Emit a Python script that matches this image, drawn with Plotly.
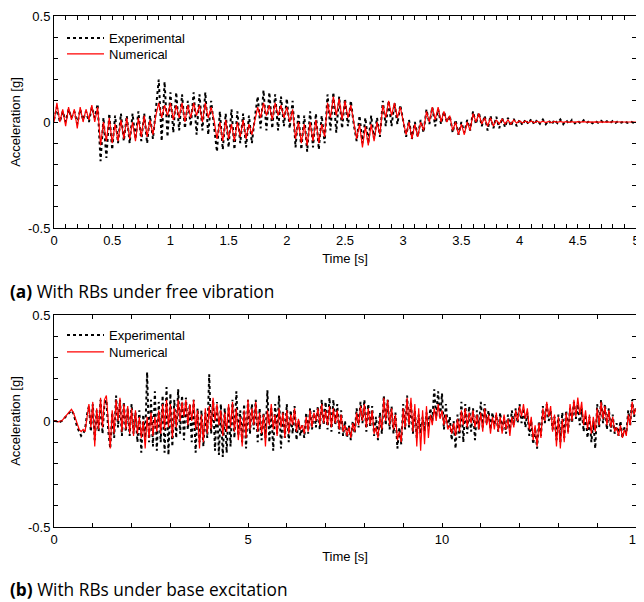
import numpy as np
import plotly.graph_objects as go

# ---------------- data ----------------
# (a) free vibration, 0-5 s
exp_a = [0.01, 0.07, 0.0, 0.05, 0.0, 0.06, 0.02, 0.05, -0.01, 0.06, 0.01, 0.05, 0.0, 0.07, 0.02, 0.085,
         -0.185, 0.02, -0.17, 0.04, -0.13, 0.03, -0.1, 0.04, -0.09, 0.03, -0.1, 0.04, -0.08, 0.05, -0.09, 0.04, -0.1, 0.03, -0.08, 0.06,
         0.2, -0.09, 0.19, -0.07, 0.14, -0.05, 0.14, -0.04, 0.13, -0.03, 0.1, -0.02, 0.14, -0.06, 0.13, -0.04, 0.14, -0.06, 0.1, -0.02,
         -0.14, 0.05, -0.13, 0.04, -0.12, 0.06, -0.13, 0.05, -0.1, 0.04, -0.12, 0.03, -0.1, 0.02,
         0.12, -0.03, 0.15, -0.04, 0.14, -0.03, 0.13, -0.04, 0.12, -0.02, 0.11, -0.03, 0.1,
         -0.12, 0.04, -0.13, 0.03, -0.14, 0.05, -0.12, 0.04, -0.13, 0.03, -0.1,
         0.13, -0.04, 0.14, -0.05, 0.12, -0.03, 0.11, -0.02, 0.1, -0.01,
         -0.09, 0.03, -0.1, 0.02, -0.1, 0.03, -0.08, 0.02, -0.07,
         0.1, -0.02, 0.1, -0.02, 0.09, -0.01, 0.08, 0.0,
         -0.07, 0.01, -0.08, 0.0, -0.07, 0.01, -0.05,
         0.06, -0.01, 0.07, -0.02, 0.06, -0.01, 0.05, 0.0, 0.03,
         -0.05, 0.01, -0.06, 0.0, -0.05, 0.01, -0.04,
         0.05, -0.01, 0.045, -0.02,
         0.03, -0.04, 0.03, -0.03, 0.025, -0.03, 0.02, -0.025, 0.02, -0.02, 0.015, -0.02,
         0.01, -0.015, 0.012, -0.01, 0.015, -0.012, 0.01, -0.008, 0.012, -0.01,
         0.008, -0.012, 0.01, -0.006, 0.012, -0.01, 0.008, -0.008, 0.01, -0.006,
         0.006, -0.008, 0.008, -0.005, 0.006, -0.006, 0.005, -0.004, 0.006, -0.005,
         0.004, -0.006, 0.005, -0.004, 0.005, -0.003, 0.004, -0.004, 0.003, -0.003, 0.002]

num_a = [0.0, 0.09, 0.0, 0.06, -0.02, 0.07, 0.01, 0.06, -0.03, 0.07, 0.0, 0.06, 0.01, 0.08, 0.0, 0.07,
         -0.11, 0.0, -0.09, 0.02, -0.1, -0.01, -0.09, 0.01, -0.08, 0.02, -0.08, 0.0, -0.09, 0.02, -0.07, 0.03, -0.07, 0.01, -0.06, 0.03,
         0.09, 0.02, 0.08, 0.03, 0.09, 0.01, 0.08, 0.02, 0.09, 0.0, 0.08, 0.02, 0.09, 0.03, 0.08, 0.0, 0.09, 0.02, 0.07, 0.01,
         -0.08, 0.0, -0.09, 0.01, -0.08, -0.01, -0.09, 0.0, -0.07, 0.01, -0.08, -0.01, -0.06, 0.0,
         0.07, 0.02, 0.09, 0.03, 0.08, 0.01, 0.09, 0.03, 0.08, 0.02, 0.07, 0.0, 0.06,
         -0.08, 0.0, -0.1, -0.01, -0.11, 0.0, -0.09, 0.01, -0.1, -0.01, -0.07,
         0.09, 0.02, 0.12, 0.03, 0.11, 0.01, 0.1, 0.02, 0.08, 0.0,
         -0.08, -0.01, -0.12, -0.02, -0.11, -0.01, -0.09, 0.0, -0.06,
         0.08, 0.02, 0.1, 0.03, 0.09, 0.02, 0.07, 0.0,
         -0.06, 0.0, -0.08, -0.01, -0.07, 0.0, -0.04,
         0.05, 0.0, 0.07, 0.01, 0.07, 0.0, 0.05, 0.0, 0.03,
         -0.04, 0.0, -0.06, -0.01, -0.06, 0.0, -0.04,
         0.04, 0.0, 0.04, -0.01,
         0.02, -0.02, 0.02, -0.02, 0.01, -0.01, 0.015, -0.01, 0.01, -0.01, 0.01, -0.005,
         0.006, -0.005, 0.005, -0.004, 0.005, -0.004, 0.004, -0.003, 0.004, -0.003,
         0.003, -0.003, 0.003, -0.002, 0.003, -0.002, 0.002, -0.002, 0.002, -0.002,
         0.002, -0.001, 0.002, -0.001, 0.001, -0.001, 0.001, -0.001, 0.001, -0.001,
         0.001, -0.001, 0.001, 0.0, 0.001, 0.0, 0.0, 0.0, 0.0, 0.0, 0.0]

# (b) base excitation, 0-15 s
exp_b = [0.0, 0.0, -0.005, -0.005, 0.0, 0.01, 0.015, 0.03, 0.04, 0.05,
         0.035, 0.0, -0.03, -0.05, -0.07, -0.06, -0.04, 0.03, 0.07, -0.05,
         0.08, -0.09, 0.05, -0.05, 0.1, -0.06, 0.08, 0.1, -0.05, -0.13,
         0.04, -0.08, 0.12, -0.03, 0.1, -0.07, 0.09, -0.05, 0.06, -0.07,
         0.08, -0.06, 0.04, -0.1, 0.05, -0.15, 0.03, -0.08, 0.23, -0.1,
         0.1, -0.12, 0.14, -0.14, 0.09, -0.1, 0.12, -0.15, 0.16, -0.16,
         0.13, -0.12, 0.1, -0.08, 0.15, -0.06, 0.12, -0.09, 0.11, -0.04,
         0.08, -0.1, 0.1, -0.15, 0.06, -0.1, 0.05, -0.12, 0.04, -0.08,
         0.22, -0.06, 0.1, -0.14, 0.09, -0.16, 0.08, -0.17, 0.06, -0.15,
         0.07, -0.12, 0.1, -0.08, 0.14, -0.07, 0.05, -0.1, 0.08, -0.13,
         0.1, -0.06, 0.08, -0.04, 0.1, -0.1, 0.06, -0.09, 0.04, -0.08,
         0.145, -0.1, 0.06, -0.14, 0.08, -0.06, 0.12, -0.13, 0.05, -0.08,
         0.08, -0.1, 0.05, -0.06, 0.07, -0.09, 0.0, -0.07, -0.02, -0.08,
         0.04, -0.06, 0.06, -0.04, 0.05, -0.03, 0.07, -0.04, 0.1, -0.02,
         0.09, -0.04, 0.11, -0.05, 0.1, -0.02, 0.08, -0.06, 0.05, -0.07,
         0.0, -0.08, -0.02, -0.09, 0.0, -0.06, 0.06, -0.03, 0.09, -0.01,
         0.1, -0.05, 0.08, -0.03, 0.07, -0.07, 0.02, -0.09, 0.04, -0.06,
         0.12, -0.02, 0.1, -0.04, 0.07, -0.06, 0.04, -0.13, -0.03, -0.11,
         0.08, -0.04, 0.12, -0.03, 0.09, -0.06, 0.05, -0.08, 0.03, -0.06,
         0.02, -0.05, 0.04, -0.03, 0.06, 0.0, 0.15, 0.02, 0.14, 0.01,
         0.13, -0.04, 0.08, -0.03, 0.02, -0.09, 0.0, -0.13, 0.03, -0.08,
         0.09, -0.1, 0.08, -0.06, 0.07, -0.05, 0.06, -0.09, 0.05, -0.04,
         0.09, -0.03, 0.08, -0.01, 0.05, -0.04, 0.04, -0.02, 0.03, -0.05,
         0.04, -0.05, 0.02, -0.06, 0.03, -0.04, 0.05, -0.02, 0.06, -0.01,
         0.08, -0.01, 0.06, -0.03, 0.04, -0.07, 0.0, -0.11, -0.03, -0.13,
         0.0, -0.07, 0.07, -0.01, 0.08, 0.0, 0.05, -0.04, 0.02, -0.09,
         0.03, -0.1, 0.04, -0.08, 0.05, -0.05, 0.06, -0.01, 0.09, 0.01,
         0.08, -0.02, 0.06, -0.05, 0.03, -0.08, 0.02, -0.1, 0.0, -0.13,
         0.08, -0.03, 0.1, -0.01, 0.08, -0.04, 0.06, -0.05, 0.03, -0.06,
         -0.01, -0.07, 0.0, -0.08, -0.03, -0.06, 0.05, -0.02, 0.1, 0.02,
         0.07]

num_b = [0.0, 0.0, -0.005, 0.0, 0.0, 0.01, 0.02, 0.03, 0.045, 0.055,
         0.04, 0.01, -0.02, -0.04, -0.05, -0.04, -0.05, 0.02, 0.08, -0.03,
         0.09, -0.12, 0.06, -0.04, 0.11, -0.03, 0.1, 0.12, -0.02, -0.13,
         0.05, -0.06, 0.1, 0.0, 0.11, -0.05, 0.08, -0.04, 0.07, -0.06,
         0.06, -0.07, 0.05, -0.06, 0.02, -0.08, 0.0, -0.13, 0.02, -0.08,
         0.04, -0.07, 0.02, -0.05, 0.05, -0.06, 0.08, -0.04, 0.1, -0.03,
         0.08, -0.08, 0.06, -0.03, 0.1, 0.0, 0.09, 0.02, 0.1, -0.02,
         0.08, 0.0, 0.1, -0.04, 0.05, -0.13, 0.03, -0.1, 0.06, -0.06,
         0.07, -0.04, 0.11, 0.0, 0.08, -0.02, 0.05, -0.07, 0.04, -0.05,
         0.08, -0.03, 0.09, -0.05, 0.06, -0.09, 0.02, -0.12, 0.05, -0.08,
         0.1, -0.04, 0.06, -0.02, 0.09, -0.05, 0.04, -0.06, 0.03, -0.12,
         0.05, -0.02, 0.08, -0.04, 0.03, -0.07, 0.06, -0.03, 0.04, -0.08,
         0.05, -0.06, 0.03, -0.02, 0.06, -0.05, 0.01, -0.04, -0.02, -0.06,
         0.02, -0.05, 0.05, -0.03, 0.04, 0.0, 0.06, -0.02, 0.08, -0.01,
         0.05, -0.02, 0.07, -0.03, 0.06, -0.01, 0.05, -0.04, 0.03, -0.05,
         -0.02, -0.07, -0.03, -0.08, -0.01, -0.05, 0.04, -0.02, 0.07, 0.0,
         0.08, -0.03, 0.06, -0.02, 0.05, -0.06, -0.03, -0.08, 0.02, -0.04,
         0.11, 0.0, 0.1, -0.02, 0.06, -0.04, 0.03, -0.09, -0.05, -0.1,
         0.06, -0.03, 0.11, -0.02, 0.11, -0.05, 0.08, -0.12, 0.06, -0.14,
         0.05, -0.11, 0.07, -0.08, 0.03, -0.02, 0.06, 0.0, 0.08, 0.01,
         0.05, -0.02, 0.03, -0.04, -0.02, -0.06, -0.01, -0.07, 0.01, -0.05,
         0.05, -0.02, 0.06, -0.03, 0.04, -0.01, 0.05, -0.03, 0.03, -0.04,
         0.04, -0.05, 0.06, -0.02, 0.03, -0.06, 0.02, -0.04, 0.04, -0.05,
         0.02, -0.06, 0.03, -0.04, 0.01, -0.07, 0.02, -0.03, 0.05, 0.0,
         0.07, 0.02, 0.08, 0.01, 0.06, -0.04, 0.02, -0.09, -0.02, -0.12,
         -0.01, -0.08, 0.06, 0.0, 0.09, 0.02, 0.07, -0.05, 0.03, -0.12,
         0.02, -0.13, 0.01, -0.1, 0.04, -0.06, 0.08, 0.0, 0.1, 0.02,
         0.11, 0.03, 0.09, -0.02, 0.05, -0.04, 0.03, -0.06, 0.02, -0.05,
         0.06, -0.02, 0.09, 0.01, 0.07, -0.02, 0.05, -0.03, 0.02, -0.05,
         -0.03, -0.07, -0.02, -0.08, -0.04, -0.07, 0.03, -0.02, 0.09, 0.03,
         0.06]

t_a = np.linspace(0, 5, len(exp_a))
t_b = np.linspace(0, 15, len(exp_b))

xtick_a = [0, 0.5, 1, 1.5, 2, 2.5, 3, 3.5, 4, 4.5, 5]
xlab_a = ["0", "0.5", "1", "1.5", "2", "2.5", "3", "3.5", "4", "4.5", "5"]
xtick_b = [0, 5, 10, 15]
xlab_b = ["0", "5", "10", "15"]
ytick = [-0.5, 0, 0.5]
ylab = ["-0.5", "0", "0.5"]

series_names = ["Experimental", "Numerical"]
captions = ["<b>(a)</b> With RBs under free vibration", "<b>(b)</b> With RBs under base excitation"]

# ---------------- figure ----------------
# the page body has an 8 px margin, so the figure is 8 px smaller and all
# pixel positions (taken in window coordinates) are shifted by 8 px
OFF = 8
W, H = 644 - OFF, 602 - OFF
FONT = "Liberation Sans, Arial, sans-serif"
FS = 13
exp_line = dict(color="black", width=2, dash="dot")
num_line = dict(color="#ff0000", width=1.2)


def px_x(x):
    return (x - OFF) / W


def px_y(y):
    return 1 - (y - OFF) / H


fig = go.Figure()
fig.add_trace(go.Scatter(x=t_a, y=exp_a, mode="lines", name=series_names[0], line=exp_line,
                         xaxis="x", yaxis="y", legend="legend"))
fig.add_trace(go.Scatter(x=t_a, y=num_a, mode="lines", name=series_names[1], line=num_line,
                         xaxis="x", yaxis="y", legend="legend3"))
fig.add_trace(go.Scatter(x=t_b, y=exp_b, mode="lines", name=series_names[0], line=exp_line,
                         xaxis="x2", yaxis="y2", legend="legend2"))
fig.add_trace(go.Scatter(x=t_b, y=num_b, mode="lines", name=series_names[1], line=num_line,
                         xaxis="x2", yaxis="y2", legend="legend4"))

xdom = [px_x(54), px_x(636)]
top_a, bot_a = 16, 228
top_b, bot_b = 315, 527


def ydom(top, bot):
    return [px_y(bot), px_y(top)]


common = dict(showline=True, linecolor="black", linewidth=1, mirror="allticks",
              ticks="inside", ticklen=4, tickcolor="black", tickwidth=1,
              showgrid=False, zeroline=False, automargin=False, ticklabeloverflow="allow",
              tickfont=dict(family=FONT, size=FS, color="black"))


def minor(d):
    return dict(ticks="inside", ticklen=4, tickcolor="black", dtick=d, tick0=0, showgrid=False)


def leg(ypx):
    return dict(x=px_x(62), y=px_y(ypx), xanchor="left", yanchor="top", bgcolor="rgba(0,0,0,0)",
                font=dict(family=FONT, size=FS, color="black"), itemwidth=37, tracegroupgap=0,
                borderwidth=0)


fig.update_layout(
    width=W, height=H, margin=dict(l=0, r=0, t=0, b=0, autoexpand=False),
    paper_bgcolor="white", plot_bgcolor="white",
    font=dict(family=FONT, size=FS, color="black"),
    xaxis=dict(domain=xdom, anchor="y", range=[0, 5], tickmode="array",
               tickvals=xtick_a, ticktext=xlab_a, minor=minor(0.1),
               title=dict(text="Time [s]", font=dict(family=FONT, size=FS), standoff=7), **common),
    yaxis=dict(domain=ydom(top_a, bot_a), anchor="x", range=[-0.5, 0.5], tickmode="array",
               tickvals=ytick, ticktext=ylab, minor=minor(0.1),
               title=dict(text="Acceleration [g]", font=dict(family=FONT, size=FS), standoff=6), **common),
    xaxis2=dict(domain=xdom, anchor="y2", range=[0, 15], tickmode="array",
                tickvals=xtick_b, ticktext=xlab_b, minor=minor(1),
                title=dict(text="Time [s]", font=dict(family=FONT, size=FS), standoff=6), **common),
    yaxis2=dict(domain=ydom(top_b, bot_b), anchor="x2", range=[-0.5, 0.5], tickmode="array",
                tickvals=ytick, ticktext=ylab, minor=minor(0.1),
                title=dict(text="Acceleration [g]", font=dict(family=FONT, size=FS), standoff=6), **common),
    legend=leg(23), legend3=leg(39), legend2=leg(320), legend4=leg(337),
    showlegend=True,
)

for cap, ypx in zip(captions, [291, 589]):
    fig.add_annotation(text=cap, xref="paper", yref="paper", x=px_x(8), y=px_y(ypx),
                       xanchor="left", yanchor="middle", showarrow=False,
                       font=dict(family="Open Sans, Noto Sans, sans-serif", size=17.3, color="black"))

fig.write_html("out.html")
